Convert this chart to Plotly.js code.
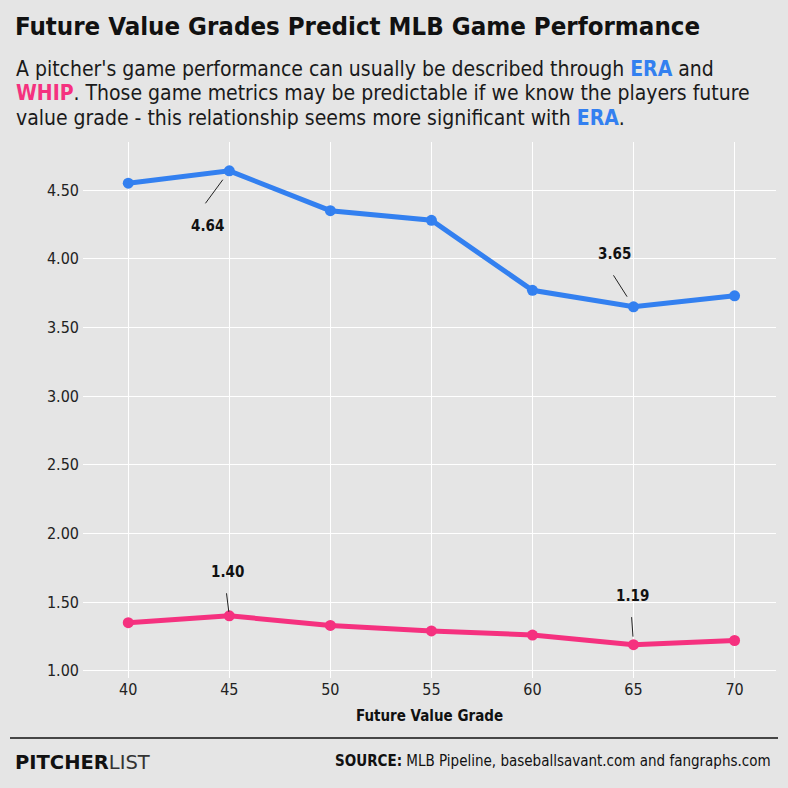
<!DOCTYPE html>
<html>
<head>
<meta charset="utf-8">
<script src="https://cdn.plot.ly/plotly-3.0.1.min.js"></script>
<style>html,body{margin:0;padding:0;background:#e5e5e5;}</style>
</head>
<body>
<div id="chart" style="width:788px;height:788px;"></div>
<script>
// Data
const grades = [40, 45, 50, 55, 60, 65, 70];
const era = [4.55, 4.64, 4.35, 4.28, 3.77, 3.65, 3.73];
const whip = [1.35, 1.40, 1.33, 1.29, 1.26, 1.19, 1.22];
const yTickVals = [1.0, 1.5, 2.0, 2.5, 3.0, 3.5, 4.0, 4.5];
const yTickText = ['1.00', '1.50', '2.00', '2.50', '3.00', '3.50', '4.00', '4.50'];
const xTickVals = [40, 45, 50, 55, 60, 65, 70];

const BLUE = '#3380f0';
const PINK = '#f5317f';
const FONT = 'DejaVu Sans Condensed';

const traces = [
  {x: grades, y: era, mode: 'lines+markers', name: 'ERA',
   line: {color: BLUE, width: 5}, marker: {color: BLUE, size: 11}, hoverinfo: 'skip'},
  {x: grades, y: whip, mode: 'lines+markers', name: 'WHIP',
   line: {color: PINK, width: 5}, marker: {color: PINK, size: 11}, hoverinfo: 'skip'}
];

const W = 788, H = 788, L = 83, R = 12, T = 142, B = 110;
const pw = W - L - R, ph = H - T - B;
const px = v => (v - L) / pw;          // page x -> paper x
const py = v => (H - B - v) / ph;      // page y -> paper y

function valueLabel(xv, yv, ax, ay, standoff, xs, ys) {
  return [
    {x: xv, y: yv, xref: 'x', yref: 'y', text: '', font: {size: 1},
     showarrow: true, arrowhead: 0, arrowwidth: 1, arrowcolor: '#222',
     ax: ax, ay: ay, standoff: standoff},
    {x: xv, y: yv, xref: 'x', yref: 'y', text: '<b>' + yv.toFixed(2) + '</b>', showarrow: false,
     xshift: xs, yshift: ys, font: {family: FONT, size: 15, color: '#111'}}
  ];
}

const subLines = [
  "A pitcher's game performance can usually be described through <b style='color:" + BLUE + "'>ERA</b> and",
  "<b style='color:" + PINK + "'>WHIP</b>. Those game metrics may be predictable if we know the players future",
  "value grade - this relationship seems more significant with <b style='color:" + BLUE + "'>ERA</b>."
];

let annotations = [];
annotations = annotations.concat(valueLabel(grades[1], era[1], -25, 34, 11, -22, -55));
annotations = annotations.concat(valueLabel(grades[5], era[5], -21, -33, 12, -19, 53));
annotations = annotations.concat(valueLabel(grades[1], whip[1], -3, -24, 4, -2, 44));
annotations = annotations.concat(valueLabel(grades[5], whip[5], -2, -29, 8, -1, 49));

subLines.forEach((t, i) => {
  annotations.push({xref: 'paper', yref: 'paper', x: px(14), y: py(69 + i * 24.5),
    xanchor: 'left', yanchor: 'middle', showarrow: false, align: 'left', text: t,
    font: {family: FONT, size: 21, color: '#1a1a1a'}});
});

annotations.push({xref: 'paper', yref: 'paper', x: px(13), y: py(762),
  xanchor: 'left', yanchor: 'middle', showarrow: false,
  text: "<b>PITCHER</b><span style='color:#333'>LIST</span>",
  font: {family: 'DejaVu Sans', size: 19.5, color: '#111'}});
annotations.push({xref: 'paper', yref: 'paper', x: px(773), y: py(761),
  xanchor: 'right', yanchor: 'middle', showarrow: false,
  text: "<b>SOURCE:</b> MLB Pipeline, baseballsavant.com and fangraphs.com",
  font: {family: FONT, size: 15, color: '#111'}});

const layout = {
  width: W, height: H,
  margin: {l: L, r: R, t: T, b: B},
  paper_bgcolor: '#e5e5e5', plot_bgcolor: '#e5e5e5',
  showlegend: false,
  title: {text: '<b>Future Value Grades Predict MLB Game Performance</b>',
    x: 15 / W, xanchor: 'left', xref: 'container',
    y: 1 - 26 / H, yanchor: 'middle', yref: 'container',
    font: {family: FONT, size: 25.6, color: '#111'}},
  xaxis: {range: [37.76, 72.05], tickvals: xTickVals, showgrid: true, gridcolor: '#ffffff',
    gridwidth: 1, zeroline: false, showline: false, ticks: '',
    tickfont: {family: FONT, size: 16, color: '#222'},
    title: {text: '<b>Future Value Grade</b>', standoff: 12,
      font: {family: FONT, size: 15, color: '#111'}}},
  yaxis: {range: [0.947, 4.85], tickvals: yTickVals, ticktext: yTickText, showgrid: true,
    gridcolor: '#ffffff', gridwidth: 1, zeroline: false, showline: false, ticks: '',
    ticklabelstandoff: 3,
    tickfont: {family: FONT, size: 16, color: '#222'}},
  shapes: [
    {type: 'line', xref: 'paper', yref: 'paper', x0: px(10), x1: px(778), y0: py(738), y1: py(738),
     line: {color: '#111', width: 1.5}}
  ],
  annotations: annotations
};

Plotly.newPlot('chart', traces, layout, {displayModeBar: false, staticPlot: true});
</script>
</body>
</html>
